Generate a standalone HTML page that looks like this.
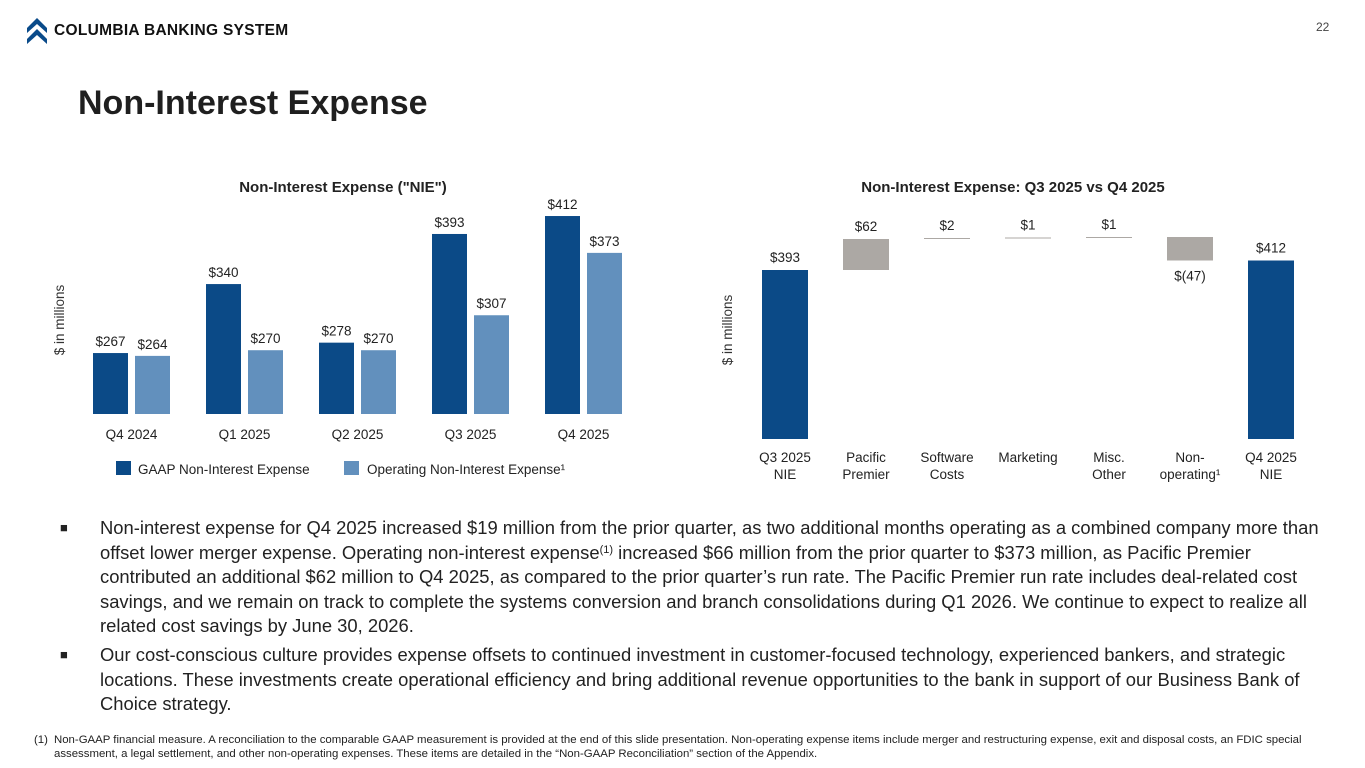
<!DOCTYPE html>
<html><head><meta charset="utf-8">
<style>
body{margin:0;width:1365px;height:768px;background:#fff;font-family:"Liberation Sans",Arial,sans-serif;color:#222;position:relative;overflow:hidden}
.abs{position:absolute}
#title{left:78px;top:84px;font-size:34px;font-weight:bold;color:#1f1f1f}
#logo{left:26px;top:16px;display:flex;align-items:center}
#logotext{font-weight:bold;font-size:15.5px;color:#111;margin-left:6px;letter-spacing:0.3px}
#pagenum{left:1316px;top:20px;font-size:12px;color:#444}
.bul{left:60px;font-size:18.4px;line-height:24.5px;color:#222}
.bul .sq{position:absolute;left:0;top:0;font-size:13px}
.bul .tx{margin-left:40px;width:1232px}
sup{font-size:11px;line-height:0;vertical-align:6px}
#foot{left:34px;top:733px;font-size:11.4px;line-height:14px;color:#222}
svg text{font-family:"Liberation Sans",Arial,sans-serif}
</style></head><body>
<div id="logo" class="abs">
<svg width="22" height="30" viewBox="0 0 22 30"><path d="M1 12 L11 2 L21 12 L21 17 L11 8 L1 17Z" fill="#0a4b8a"/><path d="M1 23 L11 13 L21 23 L21 28 L11 19 L1 28Z" fill="#0a4b8a"/></svg>
<span id="logotext">COLUMBIA BANKING SYSTEM</span></div>
<div id="pagenum" class="abs">22</div>
<div id="title" class="abs">Non-Interest Expense</div>

<svg class="abs" style="left:0;top:0" width="1365" height="520" id="charts"></svg>

<div class="abs bul" style="top:516px"><span class="sq">■</span><div class="tx">Non-interest expense for Q4 2025 increased $19 million from the prior quarter, as two additional months operating as a combined company more than offset lower merger expense. Operating non-interest expense<sup>(1)</sup> increased $66 million from the prior quarter to $373 million, as Pacific Premier contributed an additional $62 million to Q4 2025, as compared to the prior quarter’s run rate. The Pacific Premier run rate includes deal-related cost savings, and we remain on track to complete the systems conversion and branch consolidations during Q1 2026. We continue to expect to realize all related cost savings by June 30, 2026.</div></div>
<div class="abs bul" style="top:643px"><span class="sq">■</span><div class="tx">Our cost-conscious culture provides expense offsets to continued investment in customer-focused technology, experienced bankers, and strategic locations. These investments create operational efficiency and bring additional revenue opportunities to the bank in support of our Business Bank of Choice strategy.</div></div>
<div id="foot" class="abs"><span style="position:absolute;left:0">(1)</span><div style="margin-left:20px;width:1248px">Non-GAAP financial measure. A reconciliation to the comparable GAAP measurement is provided at the end of this slide presentation. Non-operating expense items include merger and restructuring expense, exit and disposal costs, an FDIC special assessment, a legal settlement, and other non-operating expenses. These items are detailed in the “Non-GAAP Reconciliation” section of the Appendix.</div></div>

<script>
const quarters=["Q4 2024","Q1 2025","Q2 2025","Q3 2025","Q4 2025"];
const gaapValues=[267,340,278,393,412];
const opValues=[264,270,270,307,373];
const wfCategories=[["Q3 2025","NIE"],["Pacific","Premier"],["Software","Costs"],["Marketing"],["Misc.","Other"],["Non-","operating¹"],["Q4 2025","NIE"]];
const wfDeltas=[393,62,2,1,1,-47,412];
const wfLabels=["$393","$62","$2","$1","$1","$(47)","$412"];

const svg=document.getElementById('charts');
const NS="http://www.w3.org/2000/svg";
function mk(tag,attrs,text){const e=document.createElementNS(NS,tag);for(const k in attrs)e.setAttribute(k,attrs[k]);if(text!==undefined)e.textContent=text;svg.appendChild(e);return e;}

// left chart
const yL=v=>414-(v-202.5)*0.945;
const xG=i=>93+i*113;
let t=mk('text',{x:343,y:192,'text-anchor':'middle','font-size':15,'font-weight':'bold',fill:'#222'},'Non-Interest Expense ("NIE")');

t=mk('text',{transform:'translate(64,320) rotate(-90)','text-anchor':'middle','font-size':13.5,fill:'#333'},'$ in millions');

quarters.forEach((q,i)=>{
 const g=gaapValues[i],o=opValues[i];
 let r=mk('rect',{x:xG(i),y:yL(g),width:35,height:414-yL(g),fill:'#0b4a87'});
 
 r=mk('rect',{x:xG(i)+42,y:yL(o),width:35,height:414-yL(o),fill:'#6290bd'});
 
 let l=mk('text',{x:xG(i)+17.5,y:yL(g)-7,'text-anchor':'middle','font-size':13.5,fill:'#222'},'$'+g);
 
 l=mk('text',{x:xG(i)+59.5,y:yL(o)-7,'text-anchor':'middle','font-size':13.5,fill:'#222'},'$'+o);
 
 l=mk('text',{x:xG(i)+38.5,y:439,'text-anchor':'middle','font-size':13.5,fill:'#222'},q);
 
});
let lg=mk('rect',{x:116,y:461,width:15,height:14,fill:'#0b4a87'});

lg=mk('text',{x:138,y:474,'font-size':13.5,fill:'#222'},'GAAP Non-Interest Expense');

lg=mk('rect',{x:344,y:461,width:15,height:14,fill:'#6290bd'});

lg=mk('text',{x:367,y:474,'font-size':13.5,fill:'#222'},'Operating Non-Interest Expense¹');


// waterfall
const yW=v=>439-(v-55)*0.5;
const xW=i=>762+i*81;
t=mk('text',{x:1013,y:192,'text-anchor':'middle','font-size':15,'font-weight':'bold',fill:'#222'},'Non-Interest Expense: Q3 2025 vs Q4 2025');

t=mk('text',{transform:'translate(732,330) rotate(-90)','text-anchor':'middle','font-size':13.5,fill:'#333'},'$ in millions');

let run=0;
wfDeltas.forEach((d,i)=>{
 const last=i===wfDeltas.length-1;
 let top,bot,col;
 if(i===0||last){top=yW(d);bot=439;col='#0b4a87';run=d;}
 else{const a=run,b=run+d;top=yW(Math.max(a,b));bot=yW(Math.min(a,b));col='#aca8a4';run=b;}
 const h=Math.max(bot-top,1);
 let r=mk('rect',{x:xW(i),y:top,width:46,height:h,fill:col});
 
 const ly=d<0?bot+20:top-8;
 let l=mk('text',{x:xW(i)+23,y:ly,'text-anchor':'middle','font-size':13.5,fill:'#222'},wfLabels[i]);
 
 wfCategories[i].forEach((s,k)=>{
  const c=mk('text',{x:xW(i)+23,y:462+k*17,'text-anchor':'middle','font-size':13.5,fill:'#222'},s);
  
 });
});
</script>
</body></html>
